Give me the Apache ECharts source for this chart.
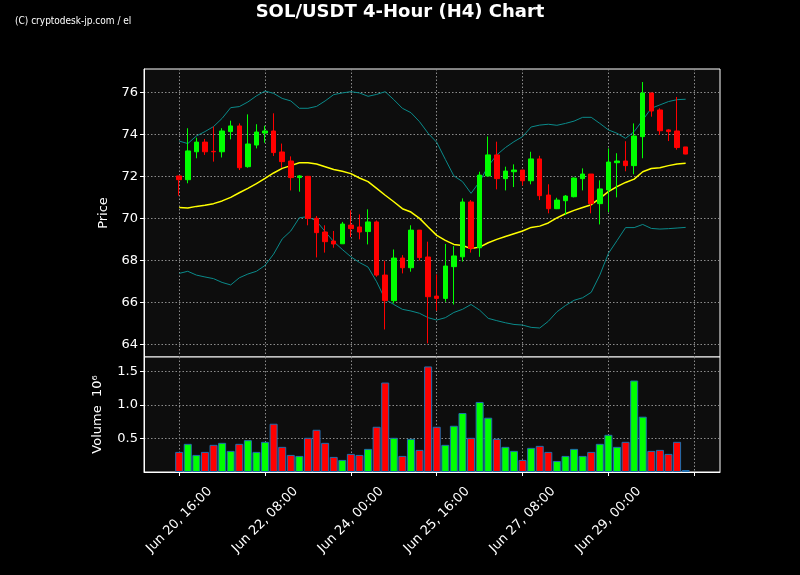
<!DOCTYPE html>
<html><head><meta charset="utf-8">
<script src="https://cdn.jsdelivr.net/npm/echarts@6/dist/echarts.min.js"></script>
<style>html,body{margin:0;padding:0;background:#000;}#c{width:800px;height:575px;}</style>
</head><body><div id="c"></div>
<script>
// ---- data (4H candles, index 0 = Jun 20 16:00) ----
const opens  = [72.02,71.84,73.17,73.63,73.19,73.17,74.13,74.40,72.46,73.49,74.06,74.16,73.16,72.73,71.94,72.00,70.00,69.35,68.92,68.79,69.68,69.59,69.37,69.83,67.30,66.08,68.11,67.65,69.44,68.16,66.30,66.19,67.70,68.17,70.78,68.60,72.02,73.02,71.89,72.22,72.30,71.79,72.83,71.11,70.46,70.84,71.03,71.89,72.11,70.70,71.35,72.65,72.73,72.51,73.89,75.97,75.16,74.21,74.16,73.40];
const closes = [71.84,73.21,73.63,73.17,73.17,74.16,74.40,72.41,73.54,74.11,74.16,73.13,72.70,71.94,72.02,70.00,69.32,68.89,68.78,69.73,69.51,69.35,69.83,67.30,66.08,68.11,67.65,69.44,68.13,66.27,66.19,67.73,68.21,70.78,68.57,72.06,73.02,71.89,72.25,72.30,71.79,72.83,71.08,70.46,70.87,71.06,71.92,72.11,70.70,71.40,72.68,72.73,72.51,73.92,75.97,75.11,74.17,74.13,73.37,73.06];
const lows   = [71.08,71.67,72.86,73.02,72.70,72.90,73.76,72.30,72.41,73.33,73.60,72.97,72.41,71.33,71.27,69.67,68.14,68.37,68.60,68.79,69.11,69.00,68.76,67.22,64.71,65.95,67.38,67.46,68.00,64.05,65.60,66.03,65.90,67.94,68.37,68.17,71.98,71.38,71.33,71.49,71.56,71.62,70.87,70.24,70.44,70.16,71.00,71.33,70.24,69.71,70.30,71.00,72.24,72.10,72.86,74.84,73.97,73.68,73.27,73.05];
const highs  = [72.02,74.29,73.84,73.78,74.37,74.29,74.65,74.52,74.95,74.48,74.41,75.00,73.56,72.95,72.06,72.02,70.11,69.67,69.40,69.83,70.38,70.19,70.43,69.90,67.98,68.52,68.25,69.67,69.44,68.89,67.33,68.78,68.68,70.95,70.87,72.22,73.90,73.65,72.46,72.57,72.30,73.17,72.98,71.62,70.98,71.11,71.95,72.38,72.11,71.81,73.33,73.10,73.67,74.52,76.49,75.97,75.24,74.25,75.78,73.40];
const volumes = [0.30,0.42,0.255,0.30,0.405,0.435,0.315,0.42,0.475,0.30,0.45,0.72,0.375,0.255,0.24,0.51,0.63,0.435,0.225,0.18,0.27,0.255,0.345,0.675,1.335,0.51,0.24,0.495,0.33,1.575,0.675,0.405,0.69,0.88,0.51,1.045,0.81,0.495,0.375,0.315,0.18,0.36,0.39,0.30,0.165,0.24,0.345,0.24,0.30,0.42,0.555,0.375,0.45,1.365,0.825,0.315,0.33,0.27,0.45,0.03];
const ma20   = [70.52,70.49,70.57,70.62,70.70,70.83,71.00,71.22,71.43,71.65,71.90,72.16,72.38,72.51,72.65,72.65,72.59,72.46,72.33,72.24,72.13,71.92,71.75,71.43,71.10,70.79,70.46,70.30,70.00,69.59,69.19,68.95,68.76,68.71,68.56,68.63,68.84,69.00,69.14,69.27,69.40,69.57,69.63,69.78,70.02,70.22,70.38,70.52,70.65,70.95,71.27,71.51,71.71,71.87,72.22,72.37,72.41,72.51,72.59,72.62];
const bbUpper= [73.68,73.56,73.92,74.13,74.37,74.76,75.27,75.32,75.54,75.83,76.06,75.95,75.71,75.59,75.24,75.24,75.33,75.59,75.89,75.97,76.03,75.97,75.81,75.90,76.03,75.65,75.24,75.03,74.60,74.05,73.62,72.81,72.02,71.75,71.19,71.75,72.49,73.02,73.37,73.65,73.89,74.35,74.44,74.48,74.43,74.52,74.63,74.81,74.81,74.52,74.21,74.05,73.81,74.13,74.68,75.24,75.40,75.56,75.65,75.67];
const bbLower= [67.38,67.48,67.30,67.21,67.13,66.95,66.83,67.17,67.35,67.48,67.76,68.30,69.02,69.40,70.03,70.08,69.87,69.37,68.89,68.52,68.17,67.90,67.68,66.98,66.14,65.90,65.67,65.59,65.48,65.27,65.16,65.27,65.52,65.67,65.90,65.63,65.24,65.13,65.03,64.95,64.92,64.81,64.78,65.10,65.55,65.85,66.10,66.22,66.48,67.30,68.33,68.94,69.56,69.56,69.71,69.52,69.49,69.51,69.54,69.57];
const tickIndex  = [0,10,20,30,40,50,60];
const tickLabels = ['Jun 20, 16:00','Jun 22, 08:00','Jun 24, 00:00','Jun 25, 16:00','Jun 27, 08:00','Jun 29, 00:00',''];
const priceTicks = [64,66,68,70,72,74,76];
const volTicks = [0.5,1.0,1.5];

// ---- build ----
const UP = '#00ff00', DOWN = '#ff0000';
const candleData = opens.map((o,i)=>[i,o,closes[i],lows[i],highs[i]]);
const volData = volumes.map((v,i)=>({value:[i,v], itemStyle:{color: closes[i]>=opens[i]?UP:DOWN}}));
const lineData = arr => arr.map((v,i)=>[i,v]);
const labelMap = {}; tickIndex.forEach((t,k)=>labelMap[t]=tickLabels[k]);

const FONT = 'DejaVu Sans';
const gridLine = {show:true, lineStyle:{color:'#8c8c8c', width:1, type:[1.5,2]}};
const chart = echarts.init(document.getElementById('c'), null, {renderer:'canvas'});
chart.setOption({
  backgroundColor:'#000',
  animation:false,
  title:{text:'SOL/USDT 4-Hour (H4) Chart', left:'center', top:-2,
    textStyle:{color:'#fff', fontSize:18, fontWeight:'bold', fontFamily:FONT}},
  graphic:[{type:'text', left:15, top:16, style:{text:'(C) cryptodesk-jp.com / el', fill:'#fff',
    font:'10px "Liberation Sans Narrow", "DejaVu Sans Condensed", sans-serif'}}],
  grid:[
    {left:144, top:69, width:576, height:288, show:true, backgroundColor:'#0d0d0d', borderColor:'#fff', borderWidth:1},
    {left:144, top:357, width:576, height:115, show:true, backgroundColor:'#0d0d0d', borderColor:'#fff', borderWidth:1}
  ],
  xAxis:[
    {type:'value', gridIndex:0, min:-4.1, max:63, axisLine:{show:false, onZero:false},
     axisTick:{show:false, customValues:tickIndex}, axisLabel:{show:false, customValues:tickIndex}, splitLine:gridLine},
    {type:'value', gridIndex:1, min:-4.1, max:63, axisLine:{show:true, onZero:false, lineStyle:{color:'#fff'}},
     axisTick:{show:true, length:4, customValues:tickIndex, lineStyle:{color:'#fff'}},
     axisLabel:{show:true, customValues:tickIndex, rotate:45, margin:48, align:'center', verticalAlign:'middle',
       color:'#fff', fontSize:13, fontFamily:FONT,
       formatter:v=>labelMap[v]!==undefined?labelMap[v]:''},
     splitLine:gridLine}
  ],
  yAxis:[
    {type:'value', gridIndex:0, min:63.40, max:77.11, name:'Price', nameLocation:'middle', nameGap:34,
     nameTextStyle:{color:'#fff', fontSize:13, fontFamily:FONT},
     axisLine:{show:true, onZero:false, lineStyle:{color:'#fff'}},
     axisTick:{show:true, length:4, customValues:priceTicks, lineStyle:{color:'#fff'}},
     axisLabel:{customValues:priceTicks, color:'#fff', fontSize:13, fontFamily:FONT, margin:6},
     splitLine:gridLine},
    {type:'value', gridIndex:1, min:0, max:1.716, name:'Volume  10\u2076', nameLocation:'middle', nameGap:40,
     nameTextStyle:{color:'#fff', fontSize:13, fontFamily:FONT},
     axisLine:{show:true, onZero:false, lineStyle:{color:'#fff'}},
     axisTick:{show:true, length:4, customValues:volTicks, lineStyle:{color:'#fff'}},
     axisLabel:{customValues:volTicks, color:'#fff', fontSize:13, fontFamily:FONT, margin:6,
       formatter:v=>v.toFixed(1)},
     splitLine:gridLine}
  ],
  series:[
    {type:'line', xAxisIndex:0, yAxisIndex:0, data:lineData(bbUpper), showSymbol:false, silent:true,
     lineStyle:{color:'#0a8a8a', width:1}, z:2},
    {type:'line', xAxisIndex:0, yAxisIndex:0, data:lineData(bbLower), showSymbol:false, silent:true,
     lineStyle:{color:'#0a8a8a', width:1}, z:2},
    {type:'line', xAxisIndex:0, yAxisIndex:0, data:lineData(ma20), showSymbol:false, silent:true,
     lineStyle:{color:'#ffff00', width:1.5}, z:3},
    {type:'candlestick', xAxisIndex:0, yAxisIndex:0, data:candleData, barWidth:5,
     encode:{x:0, y:[1,2,3,4]},
     itemStyle:{color:UP, color0:DOWN, borderColor:UP, borderColor0:DOWN, borderWidth:1}, z:4},
    {type:'bar', xAxisIndex:1, yAxisIndex:1, data:volData, barWidth:8,
     itemStyle:{borderColor:'#1f6fb0', borderWidth:1}}
  ]
});
</script></body></html>
